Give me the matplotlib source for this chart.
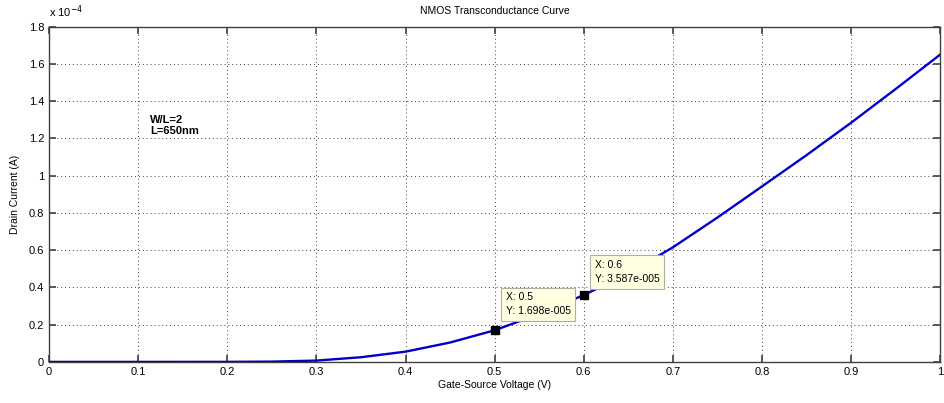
import matplotlib.pyplot as plt
import numpy as np
from matplotlib.ticker import FuncFormatter

# gate-source voltage (V) and drain current (A)
vgs = [0.0, 0.1, 0.2, 0.25, 0.3, 0.35, 0.4, 0.45, 0.5, 0.55, 0.6,
       0.65, 0.7, 0.75, 0.8, 0.85, 0.9, 0.95, 1.0]
i_d = [0.0, 0.0, 0.002e-5, 0.015e-5, 0.07e-5, 0.25e-5, 0.55e-5, 1.04e-5, 1.698e-5, 2.57e-5, 3.587e-5,
       4.75e-5, 6.15e-5, 7.75e-5, 9.42e-5, 11.1e-5, 12.84e-5, 14.65e-5, 16.5e-5]

tip_x = [0.5, 0.6]
tip_y = [1.698e-5, 3.587e-5]
tip_text = ['X: 0.5\nY: 1.698e-005', 'X: 0.6\nY: 3.587e-005']

plt.rcParams['font.family'] = ['Liberation Sans', 'DejaVu Sans']

fig = plt.figure(figsize=(9.44, 4.03), dpi=100)
ax = fig.add_axes([0.052, 0.102, 0.944, 0.832])

ax.plot(vgs, i_d, color='#0000c8', lw=1.7, zorder=3)

# datatips like the matlab ones
offsets = [(8, 10), (8, 8)]
for x, y, t, off in zip(tip_x, tip_y, tip_text, offsets):
    ax.annotate(t, (x, y), xytext=off, textcoords='offset points', fontsize=7.5,
                ha='left', va='bottom', zorder=6, linespacing=1.5,
                bbox=dict(boxstyle='square,pad=0.45', fc='#ffffe1', ec='#b0b0a0', lw=0.8))
ax.plot(tip_x, tip_y, 's', color='black', ms=5.5, zorder=7)

ax.text(0.113, 1.27e-4, 'W/L=2\nL=650nm', fontsize=8, fontweight='bold', va='center')

ax.set_xlim(0, 1)
ax.set_ylim(0, 1.8e-4)
ax.set_xticks(np.arange(0, 1.01, 0.1))
ax.set_yticks(np.arange(0, 1.81e-4, 0.2e-4))
ax.xaxis.set_major_formatter(FuncFormatter(lambda v, p: f'{v:g}'))
ax.yaxis.set_major_formatter(FuncFormatter(lambda v, p: f'{round(v * 1e4, 2):g}'))
ax.text(0.0, 1.02, r'x 10$^{-4}$', transform=ax.transAxes, fontsize=8, ha='left', va='bottom')

ax.grid(True, linestyle=(0, (1, 3)), color='#404040', lw=0.7)
ax.tick_params(direction='in', top=True, right=True, labelsize=8, length=5, width=1.2, colors='#404040',
               labelcolor='black')
for s in ax.spines.values():
    s.set_color('#404040')
    s.set_linewidth(1.0)

ax.set_title('NMOS Transconductance Curve', fontsize=7.5, pad=9)
ax.set_xlabel('Gate-Source Voltage (V)', fontsize=7.5, labelpad=2)
ax.set_ylabel('Drain Current (A)', fontsize=7.5, labelpad=6)

plt.savefig('out.png', dpi=100)
